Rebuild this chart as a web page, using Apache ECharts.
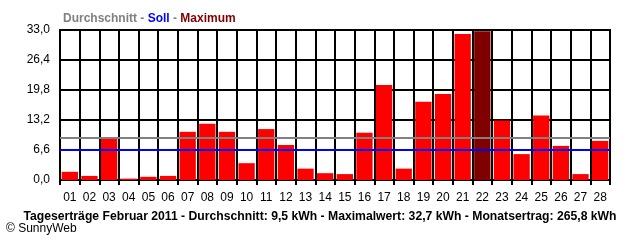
<!DOCTYPE html>
<html>
<head>
<meta charset="utf-8">
<script src="https://cdn.jsdelivr.net/npm/echarts@6/dist/echarts.min.js"></script>
<style>html,body{margin:0;padding:0;background:#fff;}#c{width:640px;height:240px;}</style>
</head>
<body>
<div id="c"></div>
<script>
var days = ['01','02','03','04','05','06','07','08','09','10','11','12','13','14','15','16','17','18','19','20','21','22','23','24','25','26','27','28'];
var yields = [1.8,0.9,9.1,0.3,0.7,0.9,10.6,12.4,10.6,3.7,11.2,7.7,2.5,1.5,1.3,10.4,20.9,2.5,17.2,18.9,32.1,32.7,13.1,5.7,14.2,7.5,1.3,8.6];
var averageLine = 9.2;
var sollLine = 6.7;
var yTicks = [0, 6.6, 13.2, 19.8, 26.4, 33.0];
var bottomTitle = 'Tageserträge Februar 2011 - Durchschnitt: 9,5 kWh - Maximalwert: 32,7 kWh - Monatsertrag: 265,8 kWh';

var maxVal = Math.max.apply(null, yields);
var chart = echarts.init(document.getElementById('c'), null, {renderer:'canvas'});
var FONT = 'Liberation Sans, Arial, sans-serif';
chart.setOption({
  backgroundColor: '#ffffff',
  animation: false,
  title: [{
    left: 58, top: 8,
    text: '{a|Durchschnitt} {s|-} {b|Soll} {s|-} {c|Maximum}',
    textStyle: {
      fontFamily: FONT, fontSize: 12, fontWeight: 'bold',
      rich: {
        a: {color:'#808080', fontFamily: FONT, fontSize: 12, fontWeight:'bold'},
        s: {color:'#808080', fontFamily: FONT, fontSize: 12, fontWeight:'bold'},
        b: {color:'#0000ff', fontFamily: FONT, fontSize: 12, fontWeight:'bold'},
        c: {color:'#800000', fontFamily: FONT, fontSize: 12, fontWeight:'bold'}
      }
    }
  }, {
    left: 'center', top: 206,
    text: bottomTitle,
    textStyle: {fontFamily: FONT, fontSize: 12.2, fontWeight: 'bold', color: '#000'}
  }],
  graphic: [{
    type: 'text', left: 6, top: 223,
    style: {text: '© SunnyWeb', fontFamily: FONT, fontSize: 12, fill: '#000'}
  }],
  grid: {left: 60, right: 30, top: 30, bottom: 60, show: true, borderColor: '#000', borderWidth: 2, backgroundColor: '#fff'},
  xAxis: {
    type: 'category', data: days, boundaryGap: true,
    axisLine: {show: true, lineStyle: {color: '#000', width: 2}},
    axisTick: {show: true, length: 5, alignWithLabel: false, lineStyle: {color: '#000', width: 2}},
    axisLabel: {color: '#000', fontFamily: FONT, fontSize: 12, margin: 12},
    splitLine: {show: true, lineStyle: {color: '#000', width: 2}}
  },
  yAxis: {
    type: 'value', min: 0, max: 33, interval: 6.6,
    axisLine: {show: true, lineStyle: {color: '#000', width: 2}},
    axisTick: {show: false},
    axisLabel: {color: '#000', fontFamily: FONT, fontSize: 12, margin: 10,
      formatter: function(v){ return v.toFixed(1).replace('.', ','); }},
    splitLine: {show: true, lineStyle: {color: '#000', width: 2}}
  },
  series: [{
    type: 'bar',
    data: yields.map(function(v){ return {value: v, itemStyle: {color: v === maxVal ? '#800000' : '#ff0000'}}; }),
    barCategoryGap: '17%',
    z: 2,
    markLine: {
      silent: true, symbol: 'none', label: {show: false}, z: 5,
      data: [
        {yAxis: averageLine, lineStyle: {color: '#808080', width: 2, type: 'solid'}},
        {yAxis: sollLine, lineStyle: {color: '#0000ff', width: 2, type: 'solid'}}
      ]
    }
  }]
});
</script>
</body>
</html>
